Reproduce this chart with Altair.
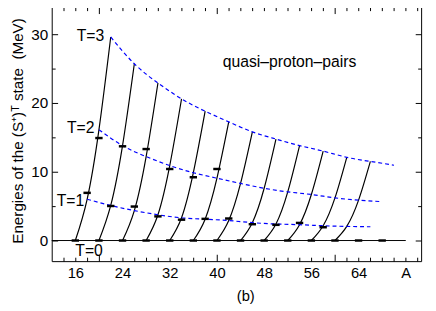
import altair as alt
import pandas as pd

# ---- data ----
curve_start_A = [16, 20, 24, 28, 32, 36, 40, 44, 48, 52, 56, 60]        # black curves (T=0 point)
blue_start_A = [16, 20, 24, 28, 32, 36, 40, 44, 48, 52, 56, 60, 64]     # blue dashed lines (A0)

# energies of the blue dashed lines at A = A0 + 2T
E_T1 = [6.0, 5.1, 4.35, 3.75, 3.3, 3.1, 2.9, 2.6, 2.4, 2.3, 2.15, 2.05, 2.0]
E_T2 = [16.1, 13.8, 12.2, 10.9, 9.86, 9.06, 8.3, 7.6, 7.07, 6.69, 6.2, 5.87, 5.65]
E_T3 = [29.6, 25.7, 22.9, 20.6, 18.8, 17.25, 15.8, 14.75, 13.8, 13.0, 12.1, 11.5, 10.95]

# short black markers
mark_T0_A = [16, 20, 24, 28, 32, 36, 40, 44, 48, 52, 56, 60, 64, 68]
mark_T1_A = [18, 22, 26, 30, 34, 38, 42, 46, 50, 54, 58]
mark_T1_E = [6.93, 5.02, 4.94, 3.51, 3.03, 3.15, 3.2, 2.37, 2.28, 2.56, 1.93]
mark_T2_A = [20, 24, 28, 32, 36, 40]
mark_T2_E = [14.9, 13.7, 13.3, 10.4, 9.2, 10.4]

baseline_A = [12, 72]

x_label_values = [16, 24, 32, 40, 48, 56, 64, 72]
x_tick_values = list(range(14, 75, 2))
y_label_values = [0, 10, 20, 30]
y_tick_values = [0, 5, 10, 15, 20, 25, 30]

labels_text = ["T=3", "T=2", "T=1"]
labels_A = [20.9, 19.25, 17.5]
labels_E = [29.7, 16.3, 5.7]

X_DOMAIN = [12, 74.6]
Y_DOMAIN = [-3, 34]
W, H = 376, 259
FONT = "Liberation Sans"

# ---- tables ----
curves = []
for k, a0 in enumerate(curve_start_A):
    pts = [(a0, 0.0), (a0 + 2, E_T1[k]), (a0 + 4, E_T2[k]), (a0 + 6, E_T3[k])]
    for i, (a, e) in enumerate(pts):
        curves.append({"curve": k, "order": i, "A": a, "E": e})
curves = pd.DataFrame(curves)

blue = []
for T, arr in ((1, E_T1), (2, E_T2), (3, E_T3)):
    for a0, e in zip(blue_start_A, arr):
        blue.append({"T": T, "A": a0 + 2 * T, "E": e})
blue = pd.DataFrame(blue)

marks = pd.DataFrame(
    {"A": mark_T0_A + mark_T1_A + mark_T2_A,
     "E": [0.0] * len(mark_T0_A) + mark_T1_E + mark_T2_E}
)
base_df = pd.DataFrame({"A": baseline_A, "E": [0.0, 0.0]})
lab_df = pd.DataFrame({"t": labels_text, "A": labels_A, "E": labels_E})
t0_df = pd.DataFrame({"t": ["T=0"], "A": [16.0], "E": [-1.6]})
q_df = pd.DataFrame({"t": ["quasi\u2013proton\u2013pairs"], "A": [52.3], "E": [25.9]})

xs = alt.Scale(domain=X_DOMAIN, nice=False, zero=False)
ys = alt.Scale(domain=Y_DOMAIN, nice=False, zero=False)

x_major_cond = {"condition": {"test": "datum.value % 20 === 0", "value": 7}, "value": 4}
y_major_cond = {"condition": {"test": "datum.value % 10 === 0", "value": 6}, "value": 3.5}

tick_common = dict(labels=False, domain=False, grid=False, title=None,
                   tickColor="black", tickWidth=1)

# axes carrying labels
x_lab_axis = alt.Axis(orient="bottom", values=x_label_values, ticks=False, domain=False,
                      grid=False, labelPadding=5, labelFontSize=15, labelColor="black",
                      labelFont=FONT,
                      labelExpr="datum.value == 72 ? 'A' : datum.label",
                      title="(b)", titleFont=FONT, titleFontSize=15, titleFontWeight="normal",
                      titleColor="black", titleX=197, titleY=40, titleBaseline="alphabetic")
y_lab_axis = alt.Axis(orient="left", values=y_label_values, ticks=False, domain=False,
                      grid=False, labelPadding=4, labelFontSize=15.5, labelColor="black",
                      labelFont=FONT,
                      title="Energies of the (S\u207a)\u1d40 state \u00a0(MeV)",
                      titleFont=FONT, titleFontSize=15.5, titleFontWeight="normal",
                      titleColor="black", titleX=-30, titleY=126, titleBaseline="alphabetic",
                      titleAngle=270)

# inward tick axes
x_bottom_ticks = alt.Axis(orient="top", offset=-H, values=x_tick_values,
                          tickSize=x_major_cond, **tick_common)
x_top_ticks = alt.Axis(orient="bottom", offset=-H, values=x_tick_values,
                       tickSize=x_major_cond, **tick_common)
y_left_ticks = alt.Axis(orient="right", offset=-W, values=y_tick_values,
                        tickSize=y_major_cond, **tick_common)
y_right_ticks = alt.Axis(orient="left", offset=-W, values=y_tick_values,
                         tickSize=y_major_cond, **tick_common)

base_layer = alt.Chart(base_df).mark_line(color="black", strokeWidth=1).encode(
    x=alt.X("A:Q", scale=xs, axis=x_lab_axis),
    y=alt.Y("E:Q", scale=ys, axis=y_lab_axis),
)

curve_layer = alt.Chart(curves).mark_line(color="black", strokeWidth=1.2,
                                          interpolate="natural").encode(
    x=alt.X("A:Q", scale=xs, axis=x_top_ticks),
    y=alt.Y("E:Q", scale=ys, axis=y_right_ticks),
    detail="curve:N",
    order="order:Q",
)

blue_layer = alt.Chart(blue).mark_line(color="#0000ff", strokeWidth=1.2,
                                       strokeDash=[4, 3], interpolate="natural").encode(
    x=alt.X("A:Q", scale=xs, axis=x_bottom_ticks),
    y=alt.Y("E:Q", scale=ys, axis=y_left_ticks),
    detail="T:N",
)

mark_layer = alt.Chart(marks).mark_tick(color="black", orient="horizontal",
                                        size=7.5, thickness=2.5, opacity=1).encode(
    x=alt.X("A:Q", scale=xs, axis=None),
    y=alt.Y("E:Q", scale=ys, axis=None),
)

lab_layer = alt.Chart(lab_df).mark_text(align="right", baseline="middle", font=FONT,
                                        fontSize=16, color="black").encode(
    x=alt.X("A:Q", scale=xs, axis=None),
    y=alt.Y("E:Q", scale=ys, axis=None),
    text="t:N",
)
t0_layer = alt.Chart(t0_df).mark_text(align="left", baseline="middle", font=FONT,
                                      fontSize=16, color="black").encode(
    x=alt.X("A:Q", scale=xs, axis=None),
    y=alt.Y("E:Q", scale=ys, axis=None),
    text="t:N",
)
q_layer = alt.Chart(q_df).mark_text(align="center", baseline="middle", font=FONT,
                                    fontSize=16, color="black").encode(
    x=alt.X("A:Q", scale=xs, axis=None),
    y=alt.Y("E:Q", scale=ys, axis=None),
    text="t:N",
)

chart = alt.layer(
    base_layer, curve_layer, blue_layer, mark_layer, lab_layer, t0_layer, q_layer
).resolve_axis(
    x="independent", y="independent"
).properties(
    width=W, height=H,
    autosize=alt.AutoSizeParams(type="none"),
    padding={"left": 44.5, "top": -4, "right": 7, "bottom": 44},
    background="white",
).configure_view(
    stroke="black", strokeWidth=1
)

chart.save("out.html", embed_options={"renderer": "svg", "actions": False})
